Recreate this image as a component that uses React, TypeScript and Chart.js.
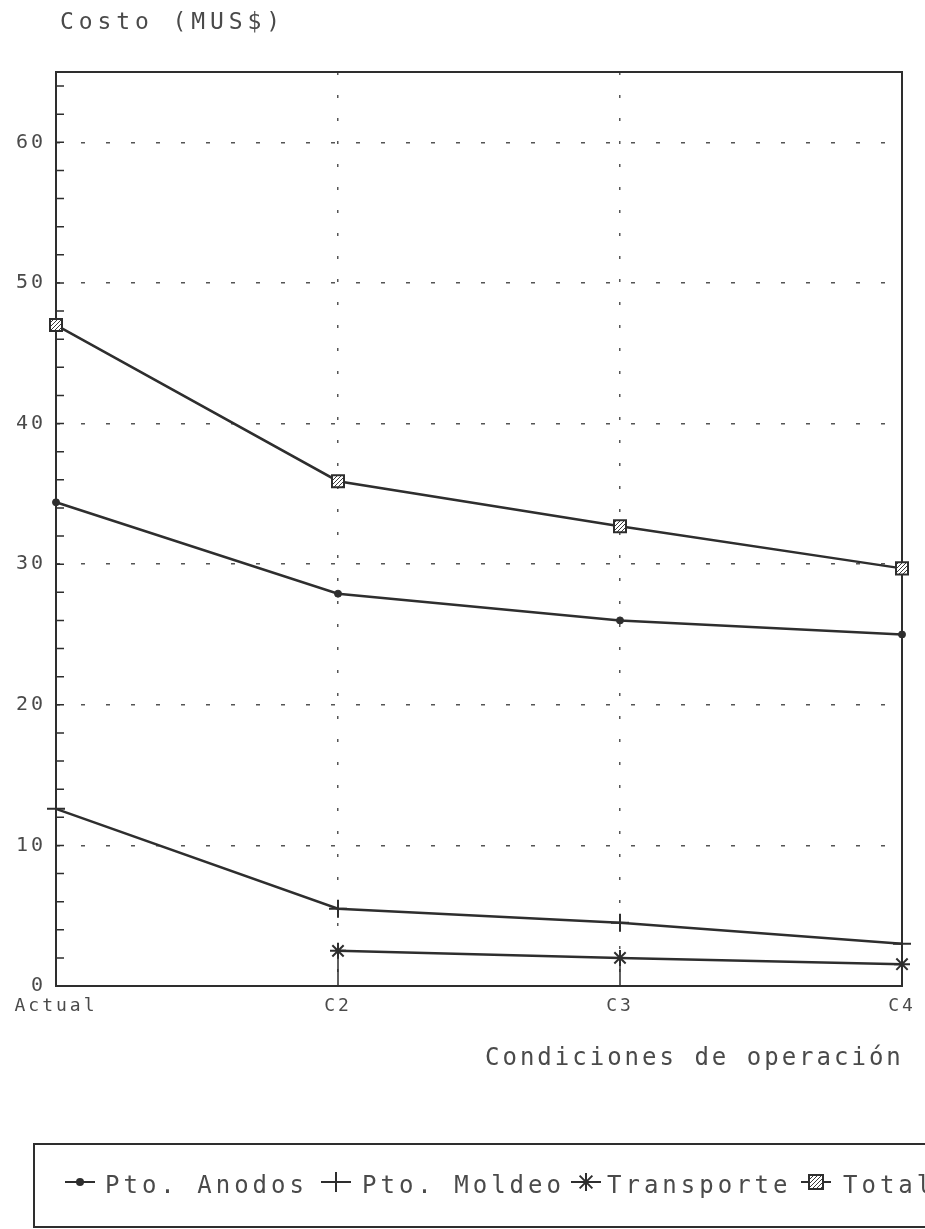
import React, { useEffect, useRef } from 'react';
import { Chart, registerables } from 'chart.js';

Chart.register(...registerables);

const categories = ['Actual', 'C2', 'C3', 'C4'];
const seriesLabels = ['Pto. Anodos', 'Pto. Moldeo', 'Transporte', 'Total'];
const anodos = [34.4, 27.9, 26.0, 25.0];
const moldeo = [12.6, 5.5, 4.5, 3.0];
const transporte = [null, 2.5, 2.0, 1.55];
const total = [47.0, 35.9, 32.7, 29.7];
const yTitle = 'Costo (MUS$)';
const xTitle = 'Condiciones de operación';
const yMin = 0;
const yMax = 65;
const yStep = 10;
const yMinorStep = 2;

const FONT = '"DejaVu Sans Mono", "Liberation Mono", monospace';
const LINE = '#2e2e2e';
const TEXT = '#4a4a4a';

function makeHatch(): CanvasPattern | string {
  const c = document.createElement('canvas');
  c.width = 4;
  c.height = 4;
  const g = c.getContext('2d');
  if (!g) return '#999';
  g.fillStyle = '#ffffff';
  g.fillRect(0, 0, 4, 4);
  g.fillStyle = '#3a3a3a';
  g.fillRect(0, 0, 1, 1);
  g.fillRect(2, 2, 1, 1);
  g.fillRect(1, 3, 1, 1);
  g.fillRect(3, 1, 1, 1);
  const p = g.createPattern(c, 'repeat');
  return p || '#999';
}

function drawMarker(ctx: CanvasRenderingContext2D, style: string, x: number, y: number, r: number, fill: any) {
  ctx.save();
  ctx.strokeStyle = LINE;
  ctx.fillStyle = LINE;
  ctx.lineWidth = 2;
  ctx.beginPath();
  if (style === 'circle') {
    ctx.arc(x, y, r, 0, Math.PI * 2);
    ctx.fill();
  } else if (style === 'cross') {
    ctx.moveTo(x, y - r);
    ctx.lineTo(x, y + r);
    ctx.moveTo(x - r, y);
    ctx.lineTo(x + r, y);
    ctx.stroke();
  } else if (style === 'star') {
    for (let k = 0; k < 4; k++) {
      const a = (k * Math.PI) / 4;
      ctx.moveTo(x - r * Math.cos(a), y - r * Math.sin(a));
      ctx.lineTo(x + r * Math.cos(a), y + r * Math.sin(a));
    }
    ctx.stroke();
  } else if (style === 'rect') {
    ctx.fillStyle = fill;
    ctx.fillRect(x - r, y - r, 2 * r, 2 * r);
    ctx.strokeRect(x - r, y - r, 2 * r, 2 * r);
  }
  ctx.restore();
}

export default function App() {
  const ref = useRef<HTMLCanvasElement | null>(null);

  useEffect(() => {
    const canvas = ref.current;
    if (!canvas) return;
    const hatch = makeHatch();
    const styles = ['circle', 'cross', 'star', 'rect'];
    const radii = [3.5, 9, 8, 8.5];
    const legendRadii = [4, 10, 9, 7];

    const decor = {
      id: 'decor',
      beforeDraw(chart: any) {
        chart.ctx.letterSpacing = '3px';
      },
      beforeDatasetsDraw(chart: any) {
        const { ctx, chartArea } = chart;
        const ys = chart.scales.y;
        const xs = chart.scales.x;
        ctx.save();
        ctx.strokeStyle = LINE;
        ctx.lineWidth = 1.5;
        ctx.beginPath();
        for (let v = yMin + yMinorStep; v < yMax; v += yMinorStep) {
          const py = ys.getPixelForValue(v);
          ctx.moveTo(chartArea.left, py);
          ctx.lineTo(chartArea.left + 8, py);
        }
        for (let i = 1; i < categories.length - 1; i++) {
          const px = xs.getPixelForValue(i);
          ctx.moveTo(px, chartArea.bottom);
          ctx.lineTo(px, chartArea.bottom - 32);
        }
        ctx.stroke();
        ctx.lineWidth = 2;
        ctx.strokeRect(chartArea.left, chartArea.top, chartArea.right - chartArea.left, chartArea.bottom - chartArea.top);
        ctx.restore();
      },
      afterDraw(chart: any) {
        const { ctx } = chart;
        ctx.save();
        ctx.fillStyle = TEXT;
        ctx.textBaseline = 'alphabetic';
        ctx.textAlign = 'left';
        ctx.font = `23px ${FONT}`;
        ctx.letterSpacing = '4.9px';
        ctx.fillText(yTitle, 60, 29);
        ctx.font = `24px ${FONT}`;
        ctx.letterSpacing = '3px';
        ctx.fillText(xTitle, 485, 1065);

        // legend box
        ctx.strokeStyle = LINE;
        ctx.lineWidth = 2;
        ctx.strokeRect(34, 1144, 960, 83);
        const markerX = [80, 336, 586, 816];
        const textX = [105, 362, 607, 843];
        const my = 1182;
        ctx.font = `24px ${FONT}`;
        ctx.letterSpacing = '4px';
        for (let i = 0; i < seriesLabels.length; i++) {
          ctx.beginPath();
          ctx.lineWidth = 2;
          ctx.moveTo(markerX[i] - 15, my);
          ctx.lineTo(markerX[i] + 15, my);
          ctx.stroke();
          drawMarker(ctx, styles[i], markerX[i], my, legendRadii[i], hatch);
          ctx.fillStyle = TEXT;
          ctx.fillText(seriesLabels[i], textX[i], 1193);
        }
        ctx.restore();
      },
    };

    const series = [anodos, moldeo, transporte, total];
    const chart = new Chart(canvas, {
      type: 'line',
      data: {
        labels: categories,
        datasets: series.map((d, i) => ({
          label: seriesLabels[i],
          data: d,
          borderColor: LINE,
          borderWidth: 2.5,
          backgroundColor: styles[i] === 'rect' ? hatch : LINE,
          pointBackgroundColor: styles[i] === 'rect' ? hatch : LINE,
          pointBorderColor: LINE,
          pointBorderWidth: styles[i] === 'circle' ? 1 : 2,
          pointStyle: styles[i] as any,
          pointRadius: radii[i],
          tension: 0,
          fill: false,
          spanGaps: false,
        })),
      },
      options: {
        animation: false,
        responsive: false,
        maintainAspectRatio: false,
        events: [],
        layout: { padding: { left: 0, right: 23, top: 72, bottom: 0 } },
        plugins: {
          legend: { display: false },
          title: { display: false },
          tooltip: { enabled: false },
        },
        scales: {
          x: {
            type: 'category',
            offset: false,
            grid: { color: '#555', lineWidth: 1.5, drawTicks: false },
            border: { display: false, dash: [3, 20] },
            ticks: {
              color: TEXT,
              font: { family: FONT, size: 18 },
              padding: 10,
              maxRotation: 0,
              autoSkip: false,
            },
            afterFit: (s: any) => {
              s.height = 243;
            },
          },
          y: {
            min: yMin,
            max: yMax,
            grid: { color: '#555', lineWidth: 1.5, drawTicks: false },
            border: { display: false, dash: [4, 21] },
            ticks: {
              stepSize: yStep,
              includeBounds: false,
              color: TEXT,
              font: { family: FONT, size: 20 },
              padding: 10,
            },
            afterFit: (s: any) => {
              s.width = 56;
            },
          },
        },
      },
      plugins: [decor],
    });
    return () => chart.destroy();
  }, []);

  return (
    <div style={{ position: 'fixed', left: 0, top: 0, width: 925, height: 1229, background: '#fff' }}>
      <canvas ref={ref} width={925} height={1229} style={{ width: 925, height: 1229, display: 'block' }} />
    </div>
  );
}
